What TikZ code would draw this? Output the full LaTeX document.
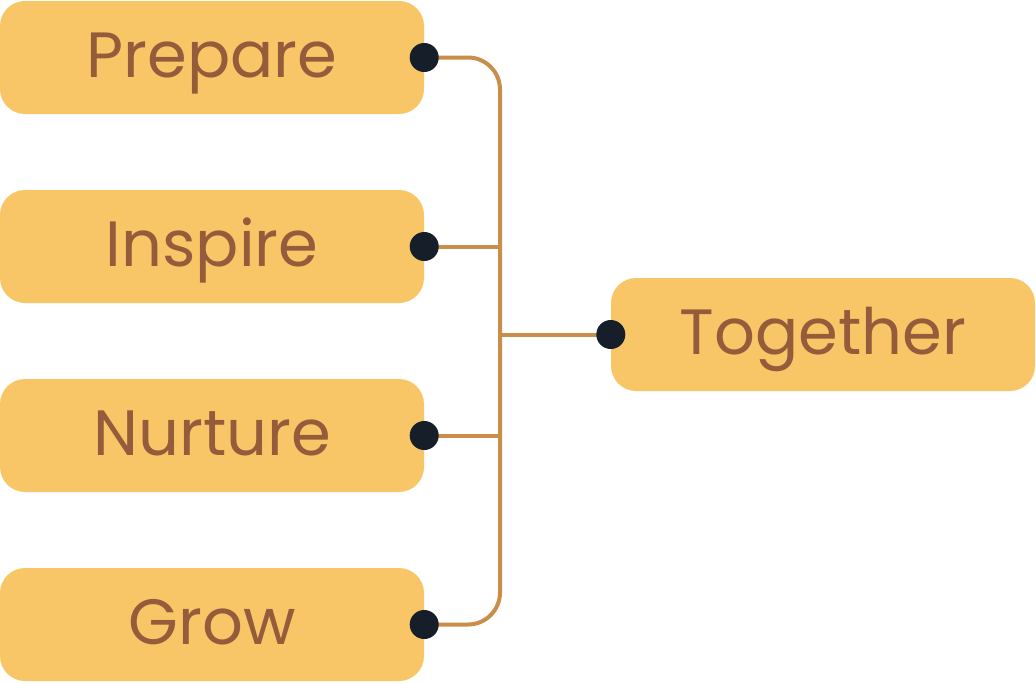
\documentclass[tikz,border=0pt]{standalone}
\usepackage{fontspec}
\newfontfamily\boxfont{Poppins}
\definecolor{BoxYellow}{HTML}{F9C667}
\definecolor{BoxText}{HTML}{955C3C}
\definecolor{LinkBrown}{HTML}{C98E4A}
\definecolor{DotNavy}{HTML}{161F29}
\usetikzlibrary{positioning,calc}
\tikzset{>=latex}
\tikzset{mybox/.style={rectangle,rounded corners=25pt,fill=BoxYellow,text=BoxText,minimum width=424pt,minimum height=113pt,inner sep=0pt,text height=52pt,text depth=12pt,font=\boxfont\fontsize{64}{70}\selectfont}}
\tikzset{mydot/.style={circle,fill=DotNavy,minimum size=29pt,inner sep=0pt}}
\tikzset{mylink/.style={LinkBrown,line width=4pt}}

\begin{document}
\begin{tikzpicture}[x=1pt,y=-1pt]
        \useasboundingbox (0,0) rectangle (1036,683);
        \node[mybox](prep) at (212, 57.5) {Prepare};
        \node[mybox](insp) at (212,246.5) {Inspire};
        \node[mybox](nurt) at (212,435.5) {Nurture};
        \node[mybox](grow) at (212,624.5) {Grow};
        \node[mybox](tog)  at (823,334.5) {Together};
        \coordinate (hub) at (500,334.5);
        \draw[mylink, rounded corners=32pt] (prep.east) -| (hub) |- (grow.east);
        \draw[mylink] (insp.east) -- (insp.east -| hub);
        \draw[mylink] (nurt.east) -- (nurt.east -| hub);
        \draw[mylink] (hub) -- (tog.west);
        \foreach \n in {prep,insp,nurt,grow}
            \node[mydot] at (\n.east) {};
        \node[mydot] at (tog.west) {};
    \end{tikzpicture}
\end{document}
